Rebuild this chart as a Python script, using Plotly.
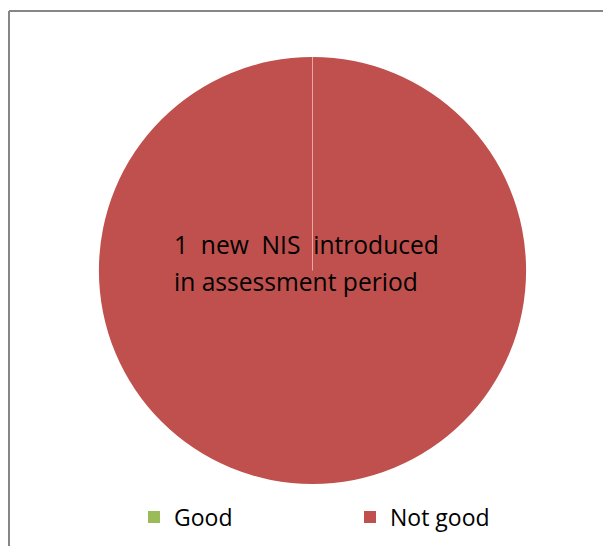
import plotly.graph_objects as go

# Assessment result shares
labels = ["Good", "Not good"]
values = [0, 100]
colors = ["#9BBB59", "#C0504D"]
note_lines = ["1  new  NIS  introduced", "in assessment period"]

W, H = 603, 546
FONT = "Open Sans"

# pie placement in pixels (left, right, top, bottom)
px_l, px_r, px_t, px_b = 99, 526, 57, 484
dom_x = [px_l / W, px_r / W]
dom_y = [(H - px_b) / H, (H - px_t) / H]

fig = go.Figure(
    go.Pie(
        labels=labels,
        values=values,
        marker=dict(colors=colors, line=dict(color="rgba(0,0,0,0)", width=0)),
        sort=False,
        direction="clockwise",
        rotation=0,
        textinfo="none",
        hoverinfo="label+percent",
        domain=dict(x=dom_x, y=dom_y),
        showlegend=True,
    )
)

cx = (dom_x[0] + dom_x[1]) / 2
cy = (dom_y[0] + dom_y[1]) / 2

shapes = [
    # slice boundary from centre to 12 o'clock
    dict(type="line", xref="paper", yref="paper", x0=cx, y0=cy, x1=cx, y1=dom_y[1],
         line=dict(color="#E8A8A6", width=1)),
    # chart area frame
    dict(type="line", xref="paper", yref="paper", x0=9 / W, y0=(H - 11) / H, x1=1.0, y1=(H - 11) / H,
         line=dict(color="#868686", width=2)),
    dict(type="line", xref="paper", yref="paper", x0=9 / W, y0=0, x1=9 / W, y1=(H - 11) / H,
         line=dict(color="#868686", width=2)),
]

# label text, one annotation per line for Office-like line spacing
note_y_px = [245, 282]
annotations = [
    dict(
        text=line,
        xref="paper", yref="paper",
        x=172 / W, y=(H - ypx) / H,
        xanchor="left", yanchor="middle",
        align="left",
        showarrow=False,
        font=dict(size=24.6, family=FONT, color="#000000"),
    )
    for line, ypx in zip(note_lines, note_y_px)
]

fig.update_layout(
    width=W,
    height=H,
    margin=dict(l=0, r=0, t=0, b=0),
    paper_bgcolor="white",
    plot_bgcolor="white",
    font=dict(family=FONT, color="#000000"),
    shapes=shapes,
    annotations=annotations,
    legend=dict(
        orientation="h",
        x=134 / W, y=(H - 517) / H,
        xanchor="left", yanchor="middle",
        entrywidth=171,
        entrywidthmode="pixels",
        font=dict(size=23, family=FONT, color="#000000"),
        bgcolor="rgba(0,0,0,0)",
        itemclick=False,
    ),
)

fig.write_html("out.html")
